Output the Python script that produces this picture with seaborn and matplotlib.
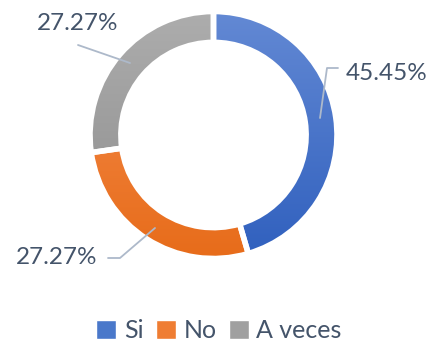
import numpy as np
import matplotlib
matplotlib.use("Agg")
import matplotlib.pyplot as plt
import matplotlib.colors as mcolors
import seaborn as sns

# Survey answers and their shares (%)
categories = ["Si", "No", "A veces"]
shares = [45.45, 27.27, 27.27]
labels = ["45.45%", "27.27%", "27.27%"]

# Vertical gradients (top colour, bottom colour) for each slice
top_colors = ["#6389D4", "#F68E50", "#ADADAD"]
bottom_colors = ["#3060BE", "#E76C1A", "#8C8C8C"]
solid_colors = ["#4A78CA", "#EF7D33", "#A0A0A0"]

sns.set_theme(style="white")
plt.rcParams["font.family"] = ["Lato", "DejaVu Sans"]

W, H = 437, 346
fig = plt.figure(figsize=(W / 100, H / 100), dpi=100)
ax = fig.add_axes([0, 0, 1, 1])

cx, cy, R = 213.5, 211.0, 123.5
ring = 0.25

wedges, _ = ax.pie(
    shares,
    colors=sns.color_palette(solid_colors),
    startangle=90,
    counterclock=False,
    radius=R,
    center=(cx, cy),
    frame=True,
    wedgeprops=dict(width=R * ring, edgecolor="white", linewidth=4),
)
ax.set_xlim(0, W)
ax.set_ylim(0, H)
ax.set_aspect("equal")
ax.axis("off")

# Gradient fill clipped to each wedge, white separators drawn on top
for w, c0, c1 in zip(wedges, top_colors, bottom_colors):
    cmap = mcolors.LinearSegmentedColormap.from_list("g", [c1, c0])
    grad = np.linspace(0, 1, 256).reshape(-1, 1)
    im = ax.imshow(grad, cmap=cmap, origin="lower", aspect="auto",
                   extent=(cx - R, cx + R, cy - R, cy + R), zorder=1)
    im.set_clip_path(w)
    w.set_zorder(2)
    w.set_facecolor("none")
ax.set_xlim(0, W)
ax.set_ylim(0, H)

text_color = "#44546A"
line_color = "#ADB9CA"

# Data labels with leader lines (label position, line vertices)
label_pos = [(346, 273), (78, 322), (57, 88)]
label_ha = ["left", "center", "center"]
leader_lines = [
    [(320, 346 - 118), (327, 346 - 68), (338, 346 - 68)],
    [(78, 346 - 45), (130, 346 - 63)],
    [(108, 346 - 258), (120, 346 - 258), (155, 346 - 228)],
]
for (lx, ly), ha, txt, pts in zip(label_pos, label_ha, labels, leader_lines):
    ax.text(lx, ly, txt, ha=ha, va="center", fontsize=17.5, color=text_color)
    xs, ys = zip(*pts)
    ax.plot(xs, ys, color=line_color, linewidth=1.3, zorder=3)

# Legend
handles = [plt.Rectangle((0, 0), 1, 1, facecolor=c) for c in solid_colors]
leg = ax.legend(handles, categories, loc="center", bbox_to_anchor=(219 / W, 1 - 331 / H),
                ncol=3, frameon=False, fontsize=18, handlelength=0.8, handleheight=0.8,
                handletextpad=0.3, columnspacing=0.5, borderaxespad=0)
for t in leg.get_texts():
    t.set_color(text_color)

fig.savefig("out.png", dpi=100)
